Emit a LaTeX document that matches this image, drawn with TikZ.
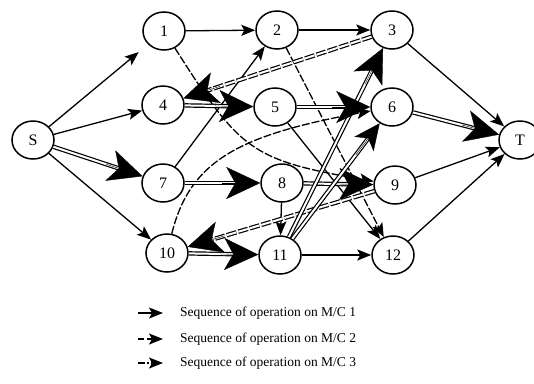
\documentclass[tikz,border=0pt]{standalone}
\usepackage{fontspec}
\setmainfont{Liberation Serif}
\usetikzlibrary{arrows.meta,calc,shapes.geometric}
\newcommand{\dblarr}[4][dbl]{%
  \draw[#1] (#2) -- (#3);
  \draw[#4] ($(#3)!60pt!(#2)$) -- (#3);}
\begin{document}
\begin{tikzpicture}[x=1pt,y=-1pt,
  nd/.style={ellipse, draw, line width=1.5pt, minimum width=42pt, minimum height=38pt, inner sep=0pt, font=\fontsize{16}{16}\selectfont},
  mc1/.style={line width=1.3pt, -{Stealth[length=14pt,width=11pt,inset=3pt]}},
  mc2/.style={mc1, dash pattern=on 8pt off 2pt},
  mc3/.style={mc1, dash pattern=on 7pt off 2pt on 2pt off 2pt},
  dbl/.style={double, line width=1.2pt, double distance=2pt, shorten >=16pt},
  dbldash/.style={dbl, dash pattern=on 10pt off 2pt},
  bighead/.style={line width=0.4pt, -{Stealth[length=34pt,width=32pt,inset=9pt]}},
  midhead/.style={line width=0.4pt, -{Stealth[length=26pt,width=24pt,inset=7pt]}},
  legtxt/.style={anchor=west, inner sep=0pt, font=\fontsize{13.5}{14}\selectfont},
]
\useasboundingbox (0,0) rectangle (534,383);
% nodes
\node[nd] (S) at (33,140) {S};
\node[nd] (n1) at (164,31) {1};
\node[nd] (n2) at (277,30) {2};
\node[nd] (n3) at (392,30) {3};
\node[nd] (n4) at (163,105) {4};
\node[nd] (n5) at (275,107) {5};
\node[nd] (n6) at (392,107) {6};
\node[nd] (n7) at (163,183) {7};
\node[nd] (n8) at (282,183) {8};
\node[nd] (n9) at (395,185) {9};
\node[nd] (n10) at (167,253) {10};
\node[nd] (n11) at (280,255) {11};
\node[nd] (n12) at (393,255) {12};
\node[nd] (T) at (520,140) {T};
% single solid arcs
\draw[mc1, shorten >=12pt] (S) -- (n1);
\draw[mc1] (S) -- (n4);
\draw[mc1] (S) -- (n10);
\draw[mc1] (n1) -- (n2);
\draw[mc1] (n2) -- (n3);
\draw[mc1] (n3) -- (T);
\draw[mc1] (n7) -- (n2);
\draw[mc1] (n8) -- (n11);
\draw[mc1] (n11) -- (n12);
\draw[mc1] (n12) -- (T);
\draw[mc1] (n9) -- (T);
\draw[mc1] (n5) -- (n12);
% dashed arcs
\draw[mc2] (n2) -- (n12);
\draw[mc2] (n1) .. controls (240,150) and (250,160) .. (n9);
\draw[mc2] (n10) .. controls (190,160) and (240,135) .. (n6);
% double arcs
\dblarr{S}{n7}{bighead}
\dblarr{n7}{n8}{bighead}
\dblarr{n8}{n9}{bighead}
\dblarr[dbldash]{n9}{n10}{bighead}
\dblarr{n10}{n11}{bighead}
\dblarr{n11}{n3}{bighead}
\dblarr{n11}{n6}{midhead}
\dblarr[dbldash]{n3}{n4}{bighead}
\dblarr{n4}{n5}{bighead}
\dblarr{n5}{n6}{bighead}
\dblarr{n6}{T}{bighead}
% legend
\coordinate (a1) at (138,313); \coordinate (b1) at (163,313);
\coordinate (a2) at (138,339); \coordinate (b2) at (163,339);
\coordinate (a3) at (138,363); \coordinate (b3) at (163,363);
\draw[mc1] (a1) -- (b1);
\draw[mc2, dash pattern=on 6pt off 3pt] (a2) -- (b2);
\draw[mc3] (a3) -- (b3);
\node[legtxt] (t1) at (180,313) {Sequence of operation on M/C 1};
\node[legtxt] (t2) at (180,339) {Sequence of operation on M/C 2};
\node[legtxt] (t3) at (180,363) {Sequence of operation on M/C 3};
\end{tikzpicture}
\end{document}
